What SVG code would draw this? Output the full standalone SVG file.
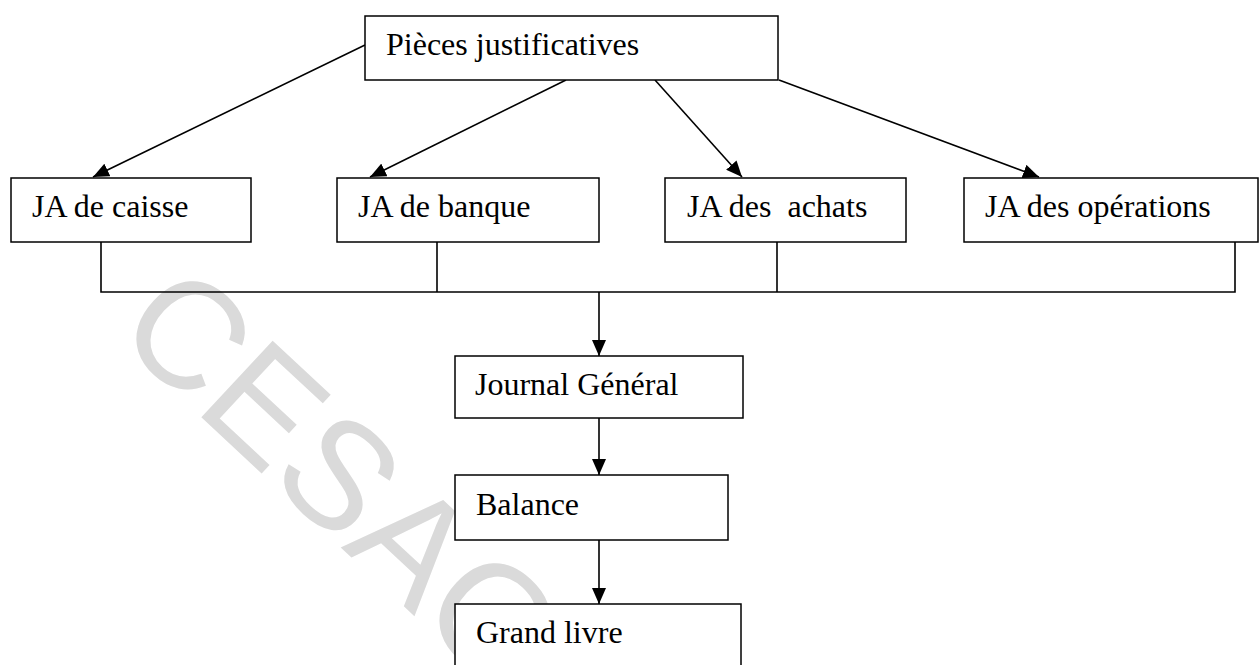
<svg xmlns="http://www.w3.org/2000/svg" width="1260" height="665" viewBox="0 0 1260 665">
  <style>
    .box { fill: #ffffff; stroke: #000000; stroke-width: 1.5; }
    .lbl { font-family: "Liberation Serif", "Times New Roman", serif; font-size: 32px; fill: #000000; }
    .con { fill: none; stroke: #000000; stroke-width: 1.6; }
    .wm { font-family: "Liberation Sans", Arial, sans-serif; font-size: 152px; fill: #dadada; }
  </style>
  <defs>
    <marker id="arr" markerUnits="userSpaceOnUse" markerWidth="16" markerHeight="14" refX="16" refY="7" orient="auto">
      <path d="M0,0 L16,7 L0,14 Z" fill="#000000"/>
    </marker>
  </defs>
  <rect width="1260" height="665" fill="#ffffff"/>
  <text class="wm" transform="translate(112,334) rotate(43)">CESAG</text>

  <g id="connectors">
    <line class="con" x1="365" y1="45" x2="93" y2="177" marker-end="url(#arr)"/>
    <line class="con" x1="566" y1="80" x2="370" y2="177" marker-end="url(#arr)"/>
    <line class="con" x1="655" y1="80" x2="742" y2="177" marker-end="url(#arr)"/>
    <line class="con" x1="779" y1="80" x2="1039" y2="177" marker-end="url(#arr)"/>
    <polyline class="con" points="101,242 101,292 1235,292 1235,242"/>
    <line class="con" x1="437" y1="242" x2="437" y2="292"/>
    <line class="con" x1="777" y1="242" x2="777" y2="292"/>
    <line class="con" x1="599" y1="292" x2="599" y2="356" marker-end="url(#arr)"/>
    <line class="con" x1="599" y1="418" x2="599" y2="475" marker-end="url(#arr)"/>
    <line class="con" x1="599" y1="540" x2="599" y2="604" marker-end="url(#arr)"/>
  </g>

  <g id="pieces">
    <rect class="box" x="365" y="16" width="413" height="64"/>
    <text class="lbl" x="386" y="55">Pièces justificatives</text>
  </g>
  <g id="ja-caisse">
    <rect class="box" x="11" y="178" width="240" height="64"/>
    <text class="lbl" x="32" y="217">JA de caisse</text>
  </g>
  <g id="ja-banque">
    <rect class="box" x="337" y="178" width="262" height="64"/>
    <text class="lbl" x="358" y="217">JA de banque</text>
  </g>
  <g id="ja-achats">
    <rect class="box" x="665" y="178" width="241" height="64"/>
    <text class="lbl" x="687" y="217" xml:space="preserve">JA des  achats</text>
  </g>
  <g id="ja-operations">
    <rect class="box" x="964" y="178" width="294" height="64"/>
    <text class="lbl" x="985" y="217">JA des opérations</text>
  </g>
  <g id="journal-general">
    <rect class="box" x="455" y="356" width="288" height="62"/>
    <text class="lbl" x="475" y="395">Journal Général</text>
  </g>
  <g id="balance">
    <rect class="box" x="455" y="475" width="273" height="65"/>
    <text class="lbl" x="476" y="515">Balance</text>
  </g>
  <g id="grand-livre">
    <rect class="box" x="455" y="604" width="286" height="80"/>
    <text class="lbl" x="476" y="643">Grand livre</text>
  </g>
</svg>
